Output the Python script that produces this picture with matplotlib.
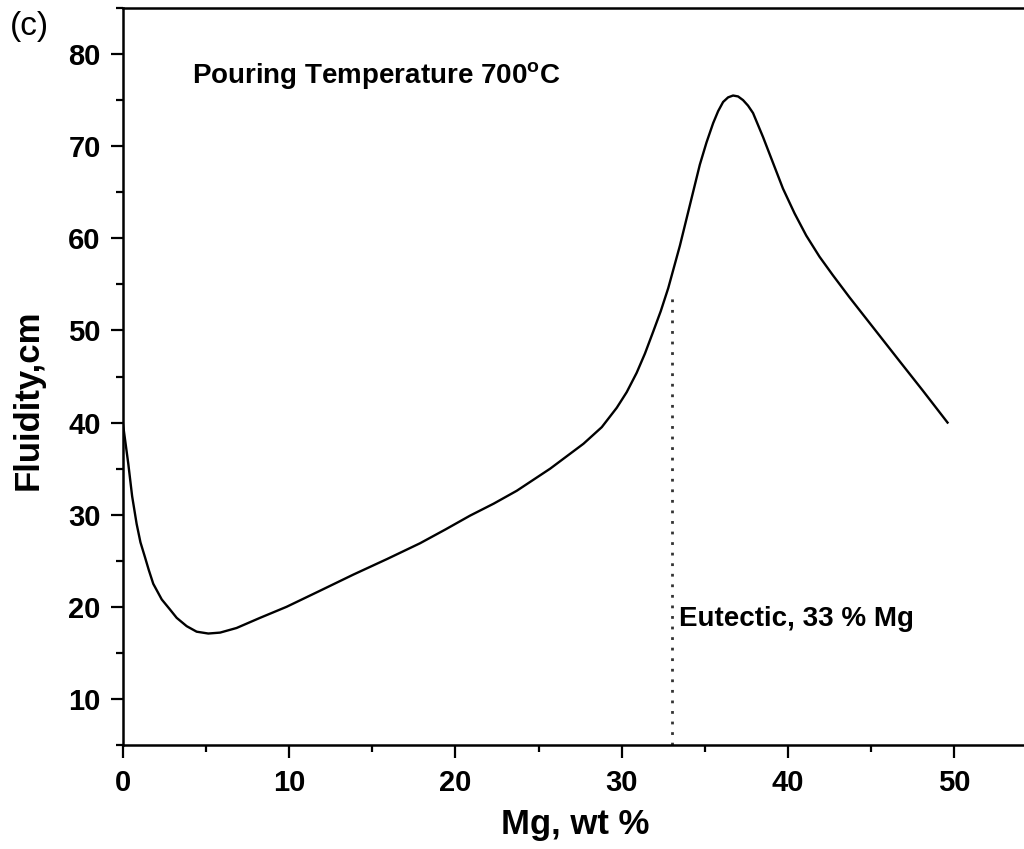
import matplotlib
matplotlib.use("Agg")
import matplotlib.pyplot as plt

plt.rcParams['font.family'] = ['Liberation Sans', 'DejaVu Sans']
plt.rcParams['mathtext.fontset'] = 'custom'
plt.rcParams['mathtext.rm'] = 'Liberation Sans:bold'
plt.rcParams['mathtext.bf'] = 'Liberation Sans:bold'

mg_wt = [0.0, 0.15, 0.32, 0.55, 0.82, 1.05, 1.32, 1.55, 1.82, 2.33, 2.83, 3.23,
         3.83, 4.43, 5.13, 5.84, 6.83, 8.24, 9.84, 11.8, 13.86, 15.9, 17.87,
         19.4, 20.88, 22.3, 23.69, 25.7, 27.7, 28.8, 29.7, 30.3, 30.9, 31.4,
         31.9, 32.35, 32.8, 33.5, 34.1, 34.7, 35.1, 35.5, 35.8, 36.1, 36.4,
         36.7, 37.0, 37.3, 37.6, 37.9, 38.5, 39.1, 39.7, 40.4, 41.1, 41.9,
         42.7, 43.7, 44.7, 45.7, 46.7, 48.1, 49.6]
fluidity = [39.8, 37.8, 35.5, 32.0, 29.0, 27.0, 25.4, 24.0, 22.5, 20.8, 19.7, 18.8,
            17.9, 17.3, 17.1, 17.2, 17.7, 18.8, 20.0, 21.7, 23.5, 25.2, 26.9,
            28.4, 29.9, 31.2, 32.6, 35.0, 37.7, 39.5, 41.6, 43.3, 45.4, 47.5,
            49.9, 52.1, 54.6, 59.2, 63.6, 68.0, 70.4, 72.5, 73.8, 74.8, 75.3,
            75.5, 75.4, 75.0, 74.4, 73.6, 71.0, 68.2, 65.4, 62.7, 60.3, 58.0,
            56.0, 53.6, 51.3, 49.0, 46.7, 43.5, 40.0]
eutectic_x = 33.0
eutectic_y = 54.0
x_ticks = [0, 10, 20, 30, 40, 50]
y_ticks = [10, 20, 30, 40, 50, 60, 70, 80]

fig = plt.figure(figsize=(10.24, 8.49), dpi=100)
ax = fig.add_axes([123/1024, 1-745/849, 1-123/1024, (745-8)/849])

ax.plot(mg_wt, fluidity, color='black', lw=1.7, solid_joinstyle='round')
ax.plot([eutectic_x, eutectic_x], [5, eutectic_y], color='#333333', lw=2.0,
        linestyle=(0, (1, 2.8)))

ax.set_xlim(0, 54.2)
ax.set_ylim(5, 85)
ax.set_xticks(x_ticks)
ax.set_yticks(y_ticks)
ax.set_xticks([5, 15, 25, 35, 45], minor=True)
ax.set_yticks([5, 15, 25, 35, 45, 55, 65, 75, 85], minor=True)

for s in ['left', 'bottom', 'top']:
    ax.spines[s].set_linewidth(1.8)
ax.spines['right'].set_visible(False)

ax.tick_params(axis='both', which='major', direction='out', length=9, width=1.6,
               labelsize=21, top=False, right=False)
ax.tick_params(axis='both', which='minor', direction='out', length=5, width=1.6,
               top=False, right=False)
ax.tick_params(axis='x', which='major', pad=8)
ax.tick_params(axis='y', which='major', pad=7)
for lab in ax.get_xticklabels() + ax.get_yticklabels():
    lab.set_fontweight('bold')

ax.set_xlabel('Mg, wt %', fontsize=25, fontweight='bold')
ax.xaxis.set_label_coords((575-123)/901, (745-808)/737)
ax.set_ylabel('Fluidity,cm', fontsize=25, fontweight='bold')
ax.yaxis.set_label_coords((45-123)/901, (745-400)/737)

ax.text(4.13, 76.7, r'Pouring Temperature 700$^{\mathrm{o}}$C', fontsize=20,
        fontweight='bold', va='baseline', ha='left')
ax.text(33.45, 17.9, 'Eutectic, 33 % Mg', fontsize=20, fontweight='bold',
        va='baseline', ha='left')

fig.text(10/1024, 1-27/849, '(c)', fontsize=24, va='center', ha='left')

fig.savefig('out.png', dpi=100)
